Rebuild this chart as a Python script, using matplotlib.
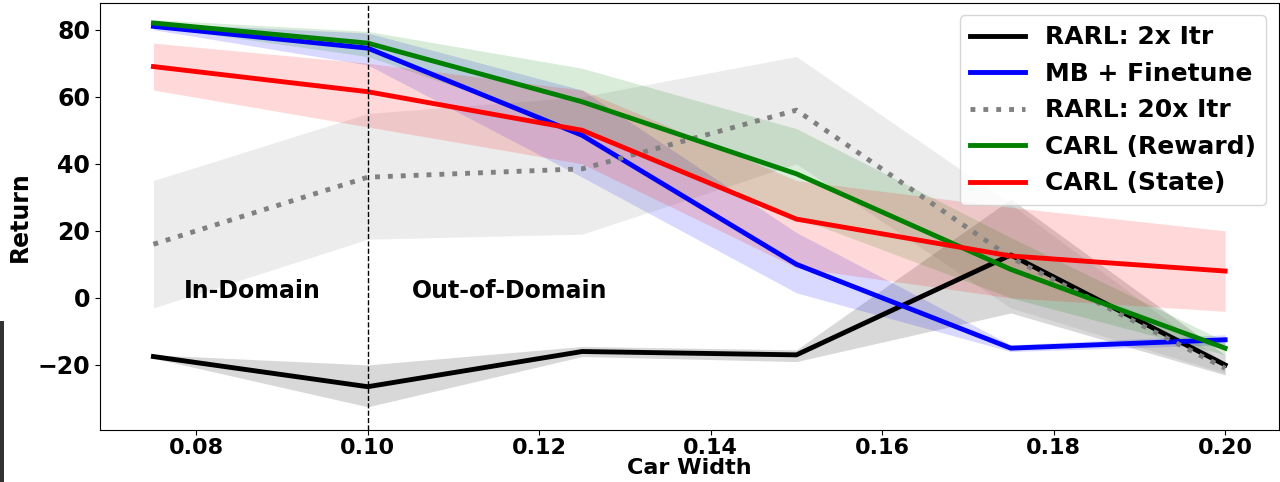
import numpy as np
import matplotlib.pyplot as plt
from matplotlib.patches import Rectangle

plt.rcParams['font.family'] = 'DejaVu Sans'
plt.rcParams['font.weight'] = 'bold'

car_width = [0.075, 0.10, 0.125, 0.15, 0.175, 0.20]

rarl_2x = [-17.5, -26.5, -16.0, -17.0, 12.8, -20.0]
rarl_2x_lo = [-18.0, -32.5, -17.5, -19.0, -4.5, -23.0]
rarl_2x_hi = [-17.0, -20.0, -14.5, -15.5, 29.5, -17.0]

mb_ft = [81.0, 74.5, 48.5, 10.0, -15.0, -12.5]
mb_ft_lo = [80.0, 69.5, 36.0, 1.5, -16.0, -14.0]
mb_ft_hi = [82.0, 79.0, 62.0, 19.5, -14.0, -11.0]

rarl_20x = [16.0, 36.0, 38.5, 56.0, 12.0, -21.0]
rarl_20x_lo = [-3.0, 17.5, 19.0, 40.0, -3.0, -22.5]
rarl_20x_hi = [35.0, 55.0, 60.0, 72.0, 28.0, -19.5]

carl_reward = [82.0, 76.0, 58.5, 37.0, 8.5, -15.0]
carl_reward_lo = [81.0, 72.0, 50.0, 24.0, 0.0, -17.0]
carl_reward_hi = [83.0, 79.5, 68.5, 50.5, 18.0, -13.0]

carl_state = [69.0, 61.5, 50.0, 23.5, 12.5, 8.0]
carl_state_lo = [62.0, 51.0, 40.0, 9.0, 0.0, -4.0]
carl_state_hi = [76.0, 70.0, 62.0, 35.0, 27.0, 20.0]

fig = plt.figure(figsize=(12.8, 4.82), dpi=100)
ax = fig.add_axes([0.078, 0.108, 0.921, 0.886])

series = [
    ('RARL: 2x Itr', rarl_2x, rarl_2x_lo, rarl_2x_hi, 'black', '-', 'gray', 0.3),
    ('MB + Finetune', mb_ft, mb_ft_lo, mb_ft_hi, 'blue', '-', 'blue', 0.15),
    ('RARL: 20x Itr', rarl_20x, rarl_20x_lo, rarl_20x_hi, 'gray', ':', 'gray', 0.15),
    ('CARL (Reward)', carl_reward, carl_reward_lo, carl_reward_hi, 'green', '-', 'green', 0.15),
    ('CARL (State)', carl_state, carl_state_lo, carl_state_hi, 'red', '-', 'red', 0.15),
]
for name, y, lo, hi, c, ls, fc, a in series:
    ax.fill_between(car_width, lo, hi, color=fc, alpha=a, linewidth=0)
    ax.plot(car_width, y, color=c, linestyle=ls, linewidth=3.5, label=name)

ax.axvline(0.10, color='black', linestyle='--', linewidth=1)
ax.text(0.0865, 2, 'In-Domain', fontsize=17, fontweight='bold', ha='center', va='center')
ax.text(0.1051, 2, 'Out-of-Domain', fontsize=17, fontweight='bold', ha='left', va='center')

ax.set_ylim(-39.4, 88)
ax.set_xticks([0.08, 0.10, 0.12, 0.14, 0.16, 0.18, 0.20])
ax.set_yticks([-20, 0, 20, 40, 60, 80])
ax.tick_params(labelsize=17)
ax.tick_params(axis='x', labelsize=16, pad=2)
ax.set_xlabel('Car Width', fontsize=16, fontweight='bold', labelpad=0)
ax.set_ylabel('Return', fontsize=17, fontweight='bold')
ax.legend(loc='upper right', fontsize=18, handlelength=2.2)

fig.patches.append(Rectangle((0, 0), 0.003, 0.335, transform=fig.transFigure,
                             facecolor='#333333', edgecolor='none'))

fig.savefig('out.png', dpi=100)
